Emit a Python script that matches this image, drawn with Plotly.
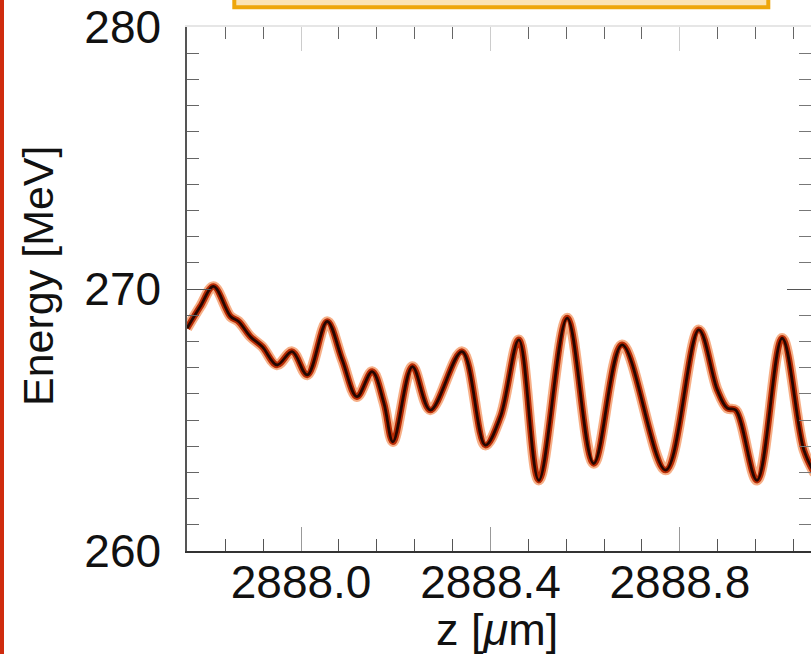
import plotly.graph_objects as go

# beam longitudinal phase space centre line
z_um = [2887.759, 2887.787, 2887.815, 2887.851, 2887.868, 2887.893, 2887.918,
        2887.949, 2887.981, 2888.013, 2888.055, 2888.087, 2888.118, 2888.150,
        2888.175, 2888.194, 2888.235, 2888.273, 2888.340, 2888.389, 2888.421,
        2888.460, 2888.502, 2888.562, 2888.618, 2888.678, 2888.770, 2888.840,
        2888.879, 2888.900, 2888.918, 2888.963, 2889.016, 2889.062, 2889.085]
energy_mev = [268.50, 269.33, 270.10, 268.95, 268.76, 268.18, 267.80,
              267.10, 267.61, 266.72, 268.76, 267.29, 265.89, 266.85,
              265.64, 264.17, 267.04, 265.38, 267.61, 264.04, 265.12,
              268.06, 262.70, 268.89, 263.34, 267.87, 263.09, 268.44,
              266.15, 265.45, 265.38, 262.70, 268.12, 263.85, 262.95]

x_range = [2887.759, 2889.077]
y_range = [260, 280]
x_tickvals = [2888.0, 2888.4, 2888.8]
x_ticktext = ["2888.0", "2888.4", "2888.8"]
y_tickvals = [260, 270, 280]
y_ticktext = ["260", "270", "280"]

FONT = "Liberation Sans, Arial, sans-serif"
W, H = 811, 654
ML, MR, MT, MB = 187, 0, 27, 103
PW, PH = W - ML - MR, H - MT - MB


def px_x(p):
    return (p - ML) / PW


def px_y(p):
    return (H - MB - p) / PH


fig = go.Figure()
fig.add_trace(go.Scatter(x=z_um, y=energy_mev, mode="lines",
                         line=dict(color="rgba(238,95,15,0.5)", width=10.5, shape="spline", smoothing=1.0),
                         hoverinfo="skip", showlegend=False))
fig.add_trace(go.Scatter(x=z_um, y=energy_mev, mode="lines",
                         line=dict(color="#b82c05", width=6.5, shape="spline", smoothing=1.0),
                         hoverinfo="skip", showlegend=False))
fig.add_trace(go.Scatter(x=z_um, y=energy_mev, mode="lines",
                         line=dict(color="#260600", width=2.8, shape="spline", smoothing=1.0),
                         showlegend=False))
# dummy trace for mirrored top/right axes
fig.add_trace(go.Scatter(x=[None], y=[None], xaxis="x2", yaxis="y2",
                         showlegend=False, hoverinfo="skip"))

tickfont = dict(family=FONT, size=46, color="#111")

fig.update_layout(
    width=W, height=H,
    margin=dict(l=ML, r=MR, t=MT, b=MB, pad=0),
    paper_bgcolor="white", plot_bgcolor="white",
    font=dict(family=FONT, color="#111"),
    xaxis=dict(range=x_range, tickmode="array", tickvals=x_tickvals, ticktext=x_ticktext,
               ticks="inside", ticklen=24, tickcolor="#999", tickwidth=1,
               minor=dict(dtick=0.08, tick0=2888.0, ticks="inside", ticklen=12,
                          tickcolor="#555", tickwidth=1.2),
               showline=True, linecolor="#333", linewidth=1.5, showgrid=False,
               zeroline=False, tickfont=tickfont, ticklabelstandoff=-10),
    yaxis=dict(range=y_range, tickmode="array", tickvals=y_tickvals, ticktext=y_ticktext,
               ticks="inside", ticklen=24, tickcolor="#555", tickwidth=1.2,
               minor=dict(dtick=1, tick0=260, ticks="inside", ticklen=12,
                          tickcolor="#666", tickwidth=1.2),
               showline=True, linecolor="#555", linewidth=1.5, showgrid=False,
               zeroline=False, tickfont=tickfont, ticklabelstandoff=15),
    xaxis2=dict(range=x_range, overlaying="x", side="top", anchor="y2",
                tickmode="array", tickvals=x_tickvals, showticklabels=False,
                ticks="inside", ticklen=24, tickcolor="#ccc", tickwidth=1,
                minor=dict(dtick=0.08, tick0=2888.0, ticks="inside", ticklen=12,
                           tickcolor="#666", tickwidth=1.2),
                showline=True, linecolor="#e6e6e6", linewidth=1.5,
                showgrid=False, zeroline=False),
    yaxis2=dict(range=y_range, overlaying="y", side="right", anchor="x2",
                tickmode="array", tickvals=y_tickvals, showticklabels=False,
                ticks="inside", ticklen=24, tickcolor="#555", tickwidth=1.2,
                minor=dict(dtick=1, tick0=260, ticks="inside", ticklen=12,
                           tickcolor="#777", tickwidth=1.2),
                showline=False, showgrid=False, zeroline=False),
    shapes=[
        dict(type="rect", xref="paper", yref="paper",
             x0=px_x(0), x1=px_x(4), y0=px_y(670), y1=px_y(-20),
             fillcolor="#cf2b0e", line=dict(width=0), layer="above"),
        dict(type="rect", xref="paper", yref="paper",
             x0=px_x(234.3), x1=px_x(768.3), y0=px_y(7.3), y1=px_y(-20),
             fillcolor="#fbe3b4", line=dict(color="#eea60a", width=4), layer="above"),
    ],
    annotations=[
        dict(text="Energy [MeV]", xref="paper", yref="paper",
             x=px_x(38), y=px_y(276), textangle=-90, showarrow=False,
             xanchor="center", yanchor="middle",
             font=dict(family=FONT, size=43, color="#111")),
        dict(text="z [<i>μ</i>m]", xref="paper", yref="paper",
             x=px_x(497), y=px_y(629), showarrow=False,
             xanchor="center", yanchor="middle",
             font=dict(family=FONT, size=45, color="#111")),
    ],
)

fig.write_html("out.html")
